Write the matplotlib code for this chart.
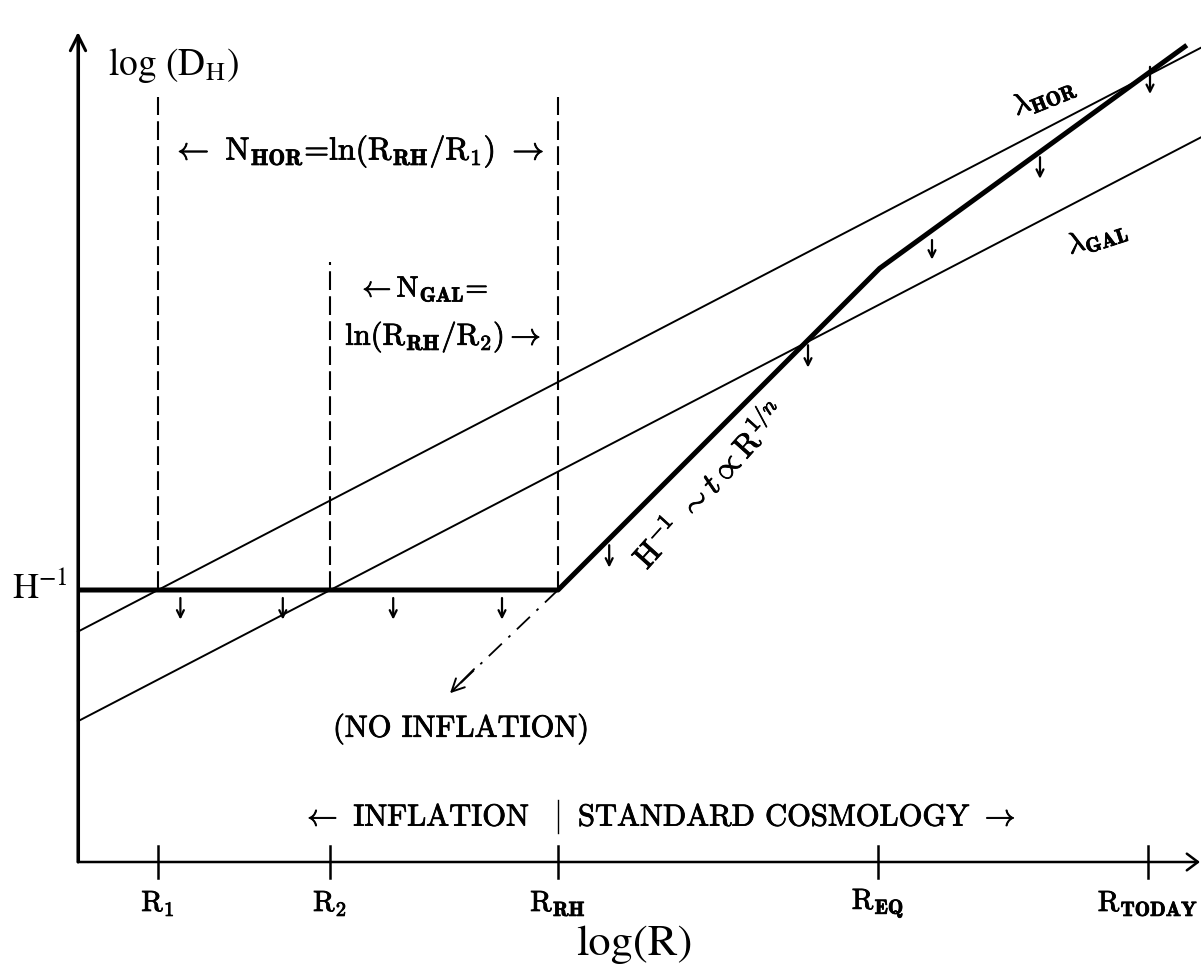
import matplotlib
matplotlib.use("Agg")
import matplotlib.pyplot as plt
import matplotlib.patheffects as pe

plt.rcParams['mathtext.fontset'] = 'cm'
plt.rcParams['axes.unicode_minus'] = False

# ---- data (schematic log-log units) ----
tick_pos = [1.0, 3.15, 6.0, 10.0, 13.375]
tick_labels = [r'R$_1$', r'R$_2$', r'R$_{\mathbf{RH}}$', r'R$_{\mathbf{EQ}}$', r'R$_{\mathbf{TODAY}}$']
H_inv_level = 3.4

hubble_x = [0.0, 6.0, 10.02, 13.86]
hubble_y = [3.4, 3.4, 7.42, 10.21]

lam_hor_x = [0.0, 14.04]
lam_hor_y = [2.88, 10.18]
lam_gal_x = [0.0, 14.04]
lam_gal_y = [1.76, 9.06]

dashed_x = [1.0, 3.15, 6.0]
dashed_top = [9.56, 7.5, 9.56]

noinf_x = [6.0, 4.65]
noinf_y = [3.4, 2.11]

arrow_x = [1.28, 2.56, 3.94, 5.3, 6.64, 9.125, 10.675, 12.025, 13.4]
arrow_y0 = [3.30, 3.30, 3.30, 3.30, 3.96, 6.46, 7.775, 8.81, 9.94]
arrow_y1 = [3.03, 3.03, 3.03, 3.03, 3.68, 6.18, 7.53, 8.54, 9.60]

x_axis_end = 14.025
y_axis_end = 10.375

thick = [pe.withStroke(linewidth=0.6, foreground='black')]

fig = plt.figure(figsize=(12.01, 9.69), dpi=100)
ax = fig.add_axes([0, 0, 1, 1])
ax.set_xlim(-0.975, 14.0375)
ax.set_ylim(-1.3375, 10.775)
ax.axis('off')

# axes with arrows
ax.annotate('', xy=(0, y_axis_end), xytext=(0, 0),
            arrowprops=dict(arrowstyle='->,head_length=1.1,head_width=0.55', lw=2.2, color='black',
                            shrinkA=0, shrinkB=0))
ax.annotate('', xy=(x_axis_end, 0), xytext=(0, 0),
            arrowprops=dict(arrowstyle='->,head_length=0.8,head_width=0.6', lw=1.8, color='black',
                            shrinkA=0, shrinkB=0))
ax.plot([0, 0], [0, y_axis_end - 0.1], color='black', lw=2.2, solid_capstyle='butt')

# ticks
for xp, lab in zip(tick_pos, tick_labels):
    ax.plot([xp, xp], [-0.2, 0.2], color='black', lw=1.8)
    ax.text(xp, -0.52, lab, ha='center', va='center', fontsize=21, family='cmr10', path_effects=thick)

# lambda lines
ax.plot(lam_hor_x, lam_hor_y, color='black', lw=1.4)
ax.plot(lam_gal_x, lam_gal_y, color='black', lw=1.4)

# Hubble radius (thick)
ax.plot(hubble_x, hubble_y, color='black', lw=3.6, solid_joinstyle='round', solid_capstyle='butt')

# dashed verticals
for xd, top in zip(dashed_x, dashed_top):
    ax.plot([xd, xd], [H_inv_level, top], color='black', lw=1.5, dashes=(9, 3))

# no-inflation dash-dot
ax.plot(noinf_x, noinf_y, color='black', lw=1.3, linestyle=(0, (10, 5, 1.5, 5)))
ax.annotate('', xy=(noinf_x[1], noinf_y[1]), xytext=(noinf_x[1] + 0.3, noinf_y[1] + 0.3),
            arrowprops=dict(arrowstyle='->,head_length=0.9,head_width=0.45', lw=1.4, color='black',
                            shrinkA=0, shrinkB=0))

# small downward arrows
for xa, y0, y1 in zip(arrow_x, arrow_y0, arrow_y1):
    ax.annotate('', xy=(xa, y1), xytext=(xa, y0),
                arrowprops=dict(arrowstyle='->,head_length=0.5,head_width=0.25', lw=1.6,
                                color='black', shrinkA=0, shrinkB=0))

# separator
ax.plot([6.0, 6.0], [0.36, 0.78], color='black', lw=1.0)

# texts
ax.text(0.38, 9.96, r'log (D$_{\mathrm{H}}$)', ha='left', va='center', fontsize=27,
        family='STIXGeneral', math_fontfamily='stix')
ax.text(-0.13, 3.42, r'H$^{\mathrm{-1}}$', ha='right', va='center', fontsize=26,
        family='STIXGeneral', math_fontfamily='stix')
ax.text(6.95, -1.04, 'log(R)', ha='center', va='center', fontsize=32,
        family='STIXGeneral', math_fontfamily='stix')

ax.text(3.5, 8.875, r'$\leftarrow$ N$_{\mathbf{HOR}}$=ln(R$_{\mathbf{RH}}$/R$_1$) $\rightarrow$',
        ha='center', va='center', fontsize=23, family='cmr10', path_effects=thick)
ax.text(3.49, 7.16, r'$\leftarrow$N$_{\mathbf{GAL}}$=', ha='left', va='center', fontsize=21,
        family='cmr10', path_effects=thick)
ax.text(3.34, 6.56, r'ln(R$_{\mathbf{RH}}$/R$_2$)$\rightarrow$', ha='left', va='center', fontsize=22,
        family='cmr10', path_effects=thick)
ax.text(4.79, 1.66, '(NO INFLATION)', ha='center', va='center', fontsize=22, family='cmr10',
        path_effects=thick)
ax.text(5.65, 0.55, r'$\leftarrow$ INFLATION', ha='right', va='center', fontsize=22, family='cmr10',
        path_effects=thick)
ax.text(6.25, 0.55, r'STANDARD COSMOLOGY $\rightarrow$', ha='left', va='center', fontsize=22,
        family='cmr10', path_effects=thick)

ax.text(12.075, 9.575, r'$\lambda_{\mathbf{HOR}}$', ha='center', va='center', fontsize=21,
        rotation=22, rotation_mode='anchor', path_effects=thick)
ax.text(12.74, 7.81, r'$\lambda_{\mathbf{GAL}}$', ha='center', va='center', fontsize=21,
        rotation=18, rotation_mode='anchor', path_effects=thick)
ax.text(7.9, 4.71, r'$\mathrm{H}^{-1}\ \sim t\propto \mathrm{R}^{1/n}$', ha='center', va='center',
        fontsize=23, rotation=48, rotation_mode='anchor', path_effects=thick)

fig.savefig('out.png', dpi=100)
